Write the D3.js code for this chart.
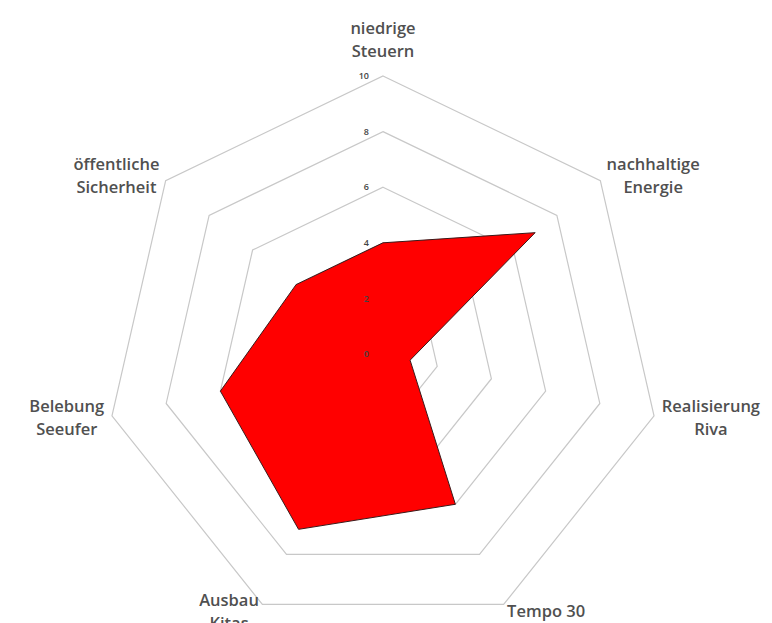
<!DOCTYPE html>
<html>
<head>
<meta charset="utf-8">
<script src="https://cdn.jsdelivr.net/npm/d3@7"></script>
<style>
  body { margin: 0; background: #fff; }
  text { font-family: "Open Sans", sans-serif; }
</style>
</head>
<body>
<div class="canvas"></div>
<script>
// chart data
const categories = [
  ['niedrige', 'Steuern'],
  ['nachhaltige', 'Energie'],
  ['Realisierung', 'Riva'],
  ['Tempo 30'],
  ['Ausbau', 'Kitas'],
  ['Belebung', 'Seeufer'],
  ['öffentliche', 'Sicherheit']
];
const values = [4, 7, 1, 6, 7, 6, 4];
const ticks = [0, 2, 4, 6, 8, 10];

const width = 772;
const height = 623;
const center = { x: 383, y: 354 };
const radius = 278;

const svg = d3.select('.canvas')
  .append('svg')
    .attr('width', width)
    .attr('height', height);

const graph = svg.append('g')
  .attr('transform', `translate(${center.x}, ${center.y})`);

const r = d3.scaleLinear()
  .domain([0, 10])
  .range([0, radius]);

const angle = d3.scaleLinear()
  .domain([0, categories.length])
  .range([0, 2 * Math.PI]);

const radial = d3.lineRadial()
  .angle((d, i) => angle(i))
  .radius(d => r(d))
  .curve(d3.curveLinearClosed);

// grid rings (skip 0)
graph.selectAll('.ring')
  .data(ticks.filter(t => t > 0))
  .enter()
  .append('path')
    .attr('class', 'ring')
    .attr('d', t => radial(categories.map(() => t)))
    .attr('fill', 'none')
    .attr('stroke', '#c8c8c8')
    .attr('stroke-width', 1.2);

// data area
graph.append('path')
  .datum(values)
  .attr('d', radial)
  .attr('fill', '#ff0000')
  .attr('stroke', '#3a1a1a')
  .attr('stroke-width', 1);

// tick labels along top axis
graph.selectAll('.tick')
  .data(ticks)
  .enter()
  .append('text')
    .attr('class', 'tick')
    .attr('x', -14)
    .attr('y', t => -r(t))
    .attr('dy', '0.35em')
    .attr('text-anchor', 'end')
    .attr('font-size', 9)
    .attr('font-weight', 600)
    .attr('fill', '#444')
    .text(t => t);

// axis labels
const lineH = 23;
const pad = 8;
categories.forEach((lines, i) => {
  const a = angle(i);
  const s = Math.sin(a), c = Math.cos(a);
  const vx = s * (radius + pad);
  const vy = -c * (radius + pad);
  const g = graph.append('g');
  const texts = g.selectAll('text')
    .data(lines)
    .enter()
    .append('text')
      .attr('text-anchor', 'middle')
      .attr('font-size', 16.5)
      .attr('font-weight', 600)
      .attr('fill', '#505050')
      .attr('y', (d, j) => j * lineH)
      .attr('dy', '0.35em')
      .text(d => d);
  const w = d3.max(texts.nodes(), n => n.getComputedTextLength());
  const h = lines.length * lineH;
  let cx = vx;
  if (s > 0.01) cx = vx + w / 2;
  else if (s < -0.01) cx = vx - w / 2;
  // block centre sits on the padded vertex, top label sits above it
  const cy = Math.abs(c) > 0.95 ? vy - h / 2 - 5 : vy;
  g.attr('transform', `translate(${cx}, ${cy - (h - lineH) / 2})`);
});
</script>
</body>
</html>
